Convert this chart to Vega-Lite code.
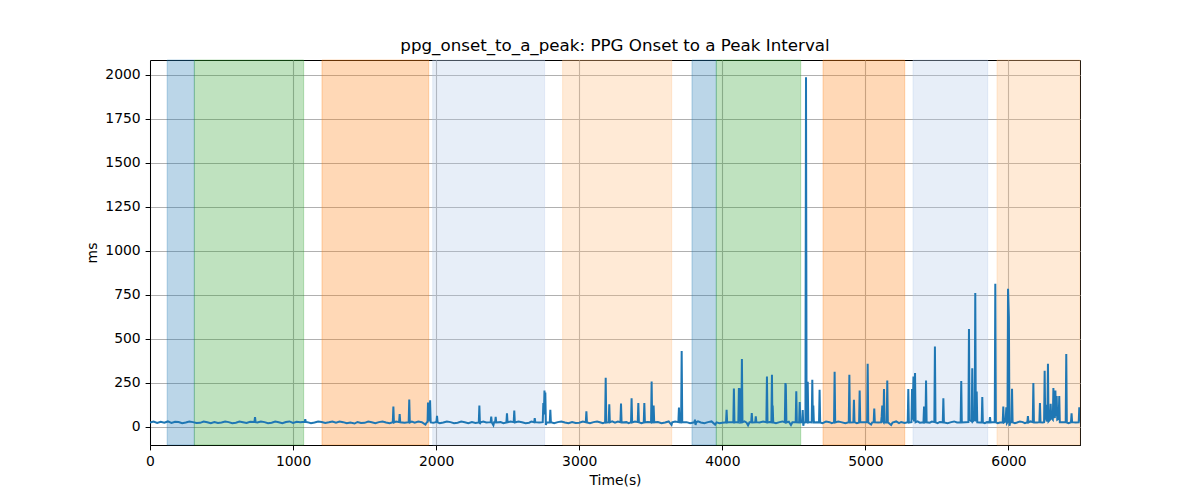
{
  "$schema": "https://vega.github.io/schema/vega-lite/v6.json",
  "autosize": "none",
  "width": 930,
  "height": 385,
  "padding": {"left": 150, "top": 60, "right": 120, "bottom": 55},
  "background": "white",
  "title": {"text": "ppg_onset_to_a_peak: PPG Onset to a Peak Interval", "fontSize": 16.7, "fontWeight": "normal", "font": "DejaVu Sans", "color": "black", "anchor": "middle", "offset": 5},
  "datasets": {
    "spans": [
      {"start": 120, "end": 310, "phase": "s1"},
      {"start": 310, "end": 1074, "phase": "s2"},
      {"start": 1202, "end": 1948, "phase": "s3"},
      {"start": 1976, "end": 2758, "phase": "s4"},
      {"start": 2884, "end": 3646, "phase": "s5"},
      {"start": 3788, "end": 3958, "phase": "s1"},
      {"start": 3958, "end": 4548, "phase": "s2"},
      {"start": 4704, "end": 5275, "phase": "s3"},
      {"start": 5333, "end": 5855, "phase": "s4"},
      {"start": 5920, "end": 6500, "phase": "s5"}
    ],
    "series": [
      {"t":0,"v":24},{"t":25,"v":29},{"t":50,"v":21},{"t":75,"v":28},{"t":100,"v":23},{"t":125,"v":30},{"t":150,"v":22},{"t":175,"v":28},{"t":200,"v":27},{"t":225,"v":20},{"t":250,"v":24},{"t":275,"v":30},{"t":300,"v":26},{"t":325,"v":21},{"t":350,"v":22},{"t":375,"v":29},{"t":400,"v":25},{"t":425,"v":20},{"t":450,"v":27},{"t":475,"v":21},{"t":500,"v":24},{"t":525,"v":30},{"t":550,"v":26},{"t":575,"v":20},{"t":600,"v":23},{"t":625,"v":29},{"t":650,"v":25},{"t":675,"v":21},{"t":700,"v":28},
      {"t":730,"v":27},{"t":734,"v":55},{"t":738,"v":26},
      {"t":750,"v":24},{"t":775,"v":30},{"t":800,"v":26},{"t":825,"v":20},{"t":850,"v":23},{"t":875,"v":29},{"t":900,"v":25},{"t":925,"v":20},{"t":950,"v":27},{"t":975,"v":30},{"t":1000,"v":22},{"t":1025,"v":28},{"t":1050,"v":25},
      {"t":1081,"v":28},{"t":1085,"v":42},{"t":1089,"v":27},
      {"t":1100,"v":26},{"t":1125,"v":20},{"t":1150,"v":24},{"t":1175,"v":30},{"t":1200,"v":27},{"t":1225,"v":21},{"t":1250,"v":25},{"t":1275,"v":30},{"t":1300,"v":23},{"t":1325,"v":29},{"t":1350,"v":26},{"t":1375,"v":20},{"t":1400,"v":24},{"t":1430,"v":18},{"t":1450,"v":27},{"t":1475,"v":21},{"t":1500,"v":22},{"t":1525,"v":29},{"t":1550,"v":25},{"t":1575,"v":20},{"t":1600,"v":26},{"t":1625,"v":30},{"t":1650,"v":24},{"t":1675,"v":20},
      {"t":1697,"v":25},{"t":1701,"v":114},{"t":1705,"v":24},
      {"t":1720,"v":29},
      {"t":1741,"v":26},{"t":1745,"v":72},{"t":1749,"v":25},
      {"t":1780,"v":23},
      {"t":1808,"v":26},{"t":1812,"v":155},{"t":1816,"v":24},
      {"t":1830,"v":29},{"t":1850,"v":23},{"t":1875,"v":29},{"t":1900,"v":26},{"t":1925,"v":12},{"t":1935,"v":25},
      {"t":1940,"v":27},{"t":1943,"v":138},{"t":1950,"v":30},{"t":1958,"v":150},{"t":1962,"v":24},
      {"t":1980,"v":22},
      {"t":2002,"v":27},{"t":2006,"v":62},{"t":2010,"v":25},
      {"t":2025,"v":20},{"t":2050,"v":24},{"t":2075,"v":30},{"t":2100,"v":26},{"t":2125,"v":20},{"t":2150,"v":23},{"t":2175,"v":29},{"t":2200,"v":25},{"t":2225,"v":20},{"t":2250,"v":27},{"t":2275,"v":21},
      {"t":2298,"v":24},{"t":2302,"v":121},{"t":2306,"v":15},{"t":2310,"v":25},
      {"t":2330,"v":29},{"t":2350,"v":24},
      {"t":2381,"v":26},{"t":2385,"v":58},{"t":2389,"v":24},
      {"t":2400,"v":8},{"t":2405,"v":25},
      {"t":2412,"v":25},{"t":2416,"v":56},{"t":2420,"v":24},
      {"t":2450,"v":26},{"t":2470,"v":20},
      {"t":2491,"v":24},{"t":2495,"v":76},{"t":2499,"v":25},
      {"t":2520,"v":30},
      {"t":2542,"v":26},{"t":2546,"v":92},{"t":2550,"v":24},
      {"t":2575,"v":29},{"t":2600,"v":25},{"t":2625,"v":20},{"t":2650,"v":23},{"t":2665,"v":29},
      {"t":2685,"v":25},{"t":2689,"v":49},{"t":2693,"v":26},
      {"t":2720,"v":24},
      {"t":2745,"v":26},{"t":2749,"v":134},{"t":2753,"v":70},{"t":2757,"v":206},{"t":2760,"v":120},{"t":2763,"v":195},{"t":2767,"v":10},{"t":2772,"v":25},
      {"t":2794,"v":24},{"t":2798,"v":96},{"t":2802,"v":25},
      {"t":2825,"v":20},{"t":2850,"v":26},{"t":2875,"v":30},{"t":2900,"v":24},{"t":2925,"v":20},{"t":2950,"v":27},{"t":2975,"v":21},{"t":3000,"v":23},{"t":3025,"v":29},
      {"t":3046,"v":25},{"t":3050,"v":88},{"t":3054,"v":24},
      {"t":3075,"v":20},{"t":3100,"v":26},{"t":3125,"v":30},{"t":3150,"v":24},{"t":3165,"v":20},
      {"t":3181,"v":25},{"t":3185,"v":279},{"t":3189,"v":24},
      {"t":3206,"v":26},{"t":3210,"v":127},{"t":3214,"v":25},
      {"t":3230,"v":30},{"t":3250,"v":23},{"t":3270,"v":29},
      {"t":3288,"v":25},{"t":3292,"v":132},{"t":3296,"v":24},
      {"t":3330,"v":26},{"t":3345,"v":20},
      {"t":3362,"v":25},{"t":3366,"v":162},{"t":3370,"v":24},
      {"t":3390,"v":29},
      {"t":3409,"v":26},{"t":3413,"v":134},{"t":3417,"v":25},
      {"t":3435,"v":20},
      {"t":3451,"v":24},{"t":3455,"v":134},{"t":3459,"v":25},
      {"t":3480,"v":27},
      {"t":3502,"v":25},{"t":3506,"v":257},{"t":3510,"v":24},{"t":3516,"v":26},{"t":3520,"v":120},{"t":3524,"v":25},
      {"t":3550,"v":27},{"t":3575,"v":20},{"t":3600,"v":24},{"t":3625,"v":30},{"t":3645,"v":10},{"t":3650,"v":25},{"t":3670,"v":29},
      {"t":3693,"v":26},{"t":3697,"v":109},{"t":3701,"v":25},{"t":3712,"v":24},{"t":3716,"v":431},{"t":3720,"v":25},
      {"t":3750,"v":26},{"t":3775,"v":20},
      {"t":3805,"v":25},{"t":3809,"v":40},{"t":3813,"v":10},{"t":3818,"v":25},
      {"t":3830,"v":30},{"t":3850,"v":24},{"t":3875,"v":20},{"t":3900,"v":26},{"t":3925,"v":30},{"t":3950,"v":12},{"t":3960,"v":25},{"t":3980,"v":20},{"t":4000,"v":23},
      {"t":4026,"v":25},{"t":4030,"v":96},{"t":4034,"v":24},
      {"t":4050,"v":26},
      {"t":4077,"v":25},{"t":4081,"v":217},{"t":4085,"v":24},
      {"t":4100,"v":26},
      {"t":4112,"v":25},{"t":4116,"v":220},{"t":4120,"v":30},{"t":4123,"v":219},{"t":4127,"v":24},
      {"t":4133,"v":26},{"t":4137,"v":385},{"t":4141,"v":25},
      {"t":4155,"v":30},{"t":4170,"v":23},{"t":4180,"v":8},{"t":4190,"v":25},
      {"t":4202,"v":25},{"t":4206,"v":77},{"t":4210,"v":24},
      {"t":4230,"v":25},{"t":4234,"v":59},{"t":4238,"v":26},
      {"t":4260,"v":24},{"t":4285,"v":29},
      {"t":4308,"v":25},{"t":4312,"v":286},{"t":4316,"v":24},
      {"t":4330,"v":27},
      {"t":4343,"v":25},{"t":4347,"v":296},{"t":4350,"v":40},{"t":4352,"v":120},{"t":4356,"v":24},
      {"t":4375,"v":20},{"t":4400,"v":26},{"t":4420,"v":30},
      {"t":4437,"v":25},{"t":4441,"v":248},{"t":4444,"v":235},{"t":4448,"v":24},
      {"t":4465,"v":29},{"t":4480,"v":10},{"t":4490,"v":25},
      {"t":4513,"v":26},{"t":4517,"v":201},{"t":4521,"v":25},
      {"t":4537,"v":24},{"t":4541,"v":140},{"t":4545,"v":25},
      {"t":4558,"v":26},{"t":4562,"v":95},{"t":4566,"v":5},{"t":4570,"v":24},
      {"t":4581,"v":25},{"t":4585,"v":1987},{"t":4589,"v":26},
      {"t":4593,"v":25},{"t":4597,"v":255},{"t":4601,"v":24},
      {"t":4615,"v":26},
      {"t":4625,"v":25},{"t":4629,"v":267},{"t":4633,"v":30},{"t":4636,"v":120},{"t":4640,"v":24},
      {"t":4660,"v":26},
      {"t":4676,"v":25},{"t":4680,"v":210},{"t":4684,"v":24},
      {"t":4700,"v":20},{"t":4725,"v":29},{"t":4750,"v":26},{"t":4765,"v":20},
      {"t":4781,"v":25},{"t":4785,"v":312},{"t":4789,"v":24},
      {"t":4810,"v":29},{"t":4830,"v":26},{"t":4860,"v":20},
      {"t":4884,"v":25},{"t":4888,"v":295},{"t":4892,"v":24},
      {"t":4916,"v":25},{"t":4920,"v":153},{"t":4924,"v":26},
      {"t":4940,"v":20},
      {"t":4956,"v":24},{"t":4960,"v":206},{"t":4964,"v":25},
      {"t":4990,"v":26},
      {"t":5012,"v":25},{"t":5016,"v":358},{"t":5020,"v":24},
      {"t":5040,"v":12},{"t":5048,"v":25},
      {"t":5058,"v":26},{"t":5062,"v":104},{"t":5066,"v":25},
      {"t":5090,"v":24},
      {"t":5110,"v":25},{"t":5114,"v":60},{"t":5118,"v":120},{"t":5122,"v":30},{"t":5126,"v":26},{"t":5130,"v":214},{"t":5134,"v":25},
      {"t":5149,"v":24},{"t":5153,"v":263},{"t":5157,"v":25},
      {"t":5180,"v":10},{"t":5190,"v":24},{"t":5215,"v":30},{"t":5235,"v":20},{"t":5250,"v":27},{"t":5275,"v":21},
      {"t":5296,"v":25},{"t":5300,"v":214},{"t":5304,"v":24},
      {"t":5322,"v":26},{"t":5326,"v":214},{"t":5330,"v":40},{"t":5336,"v":286},{"t":5340,"v":30},{"t":5347,"v":305},{"t":5351,"v":25},
      {"t":5365,"v":30},{"t":5380,"v":23},
      {"t":5406,"v":25},{"t":5410,"v":115},{"t":5414,"v":24},
      {"t":5420,"v":26},{"t":5424,"v":262},{"t":5428,"v":25},
      {"t":5450,"v":23},{"t":5465,"v":29},
      {"t":5482,"v":26},{"t":5486,"v":456},{"t":5490,"v":25},
      {"t":5505,"v":20},{"t":5520,"v":27},
      {"t":5541,"v":25},{"t":5545,"v":161},{"t":5549,"v":24},
      {"t":5575,"v":20},{"t":5600,"v":26},{"t":5620,"v":30},{"t":5640,"v":24},
      {"t":5666,"v":25},{"t":5670,"v":260},{"t":5674,"v":24},
      {"t":5700,"v":25},
      {"t":5720,"v":26},{"t":5724,"v":555},{"t":5728,"v":40},{"t":5743,"v":30},{"t":5747,"v":333},{"t":5751,"v":30},{"t":5764,"v":40},{"t":5768,"v":760},{"t":5772,"v":30},{"t":5778,"v":200},{"t":5782,"v":25},
      {"t":5800,"v":24},
      {"t":5813,"v":25},{"t":5817,"v":169},{"t":5821,"v":24},
      {"t":5835,"v":20},{"t":5850,"v":26},
      {"t":5867,"v":25},{"t":5871,"v":55},{"t":5875,"v":24},
      {"t":5890,"v":25},
      {"t":5904,"v":26},{"t":5908,"v":813},{"t":5912,"v":25},
      {"t":5925,"v":20},{"t":5940,"v":24},
      {"t":5960,"v":25},{"t":5964,"v":115},{"t":5968,"v":24},
      {"t":5980,"v":30},{"t":5985,"v":110},{"t":5989,"v":20},
      {"t":5993,"v":25},{"t":5997,"v":784},{"t":6003,"v":620},{"t":6007,"v":5},{"t":6012,"v":25},
      {"t":6021,"v":26},{"t":6025,"v":216},{"t":6029,"v":25},
      {"t":6045,"v":20},{"t":6060,"v":24},{"t":6080,"v":30},{"t":6100,"v":26},{"t":6115,"v":20},
      {"t":6132,"v":25},{"t":6136,"v":60},{"t":6140,"v":24},
      {"t":6155,"v":30},
      {"t":6170,"v":26},{"t":6174,"v":248},{"t":6178,"v":25},
      {"t":6200,"v":24},
      {"t":6216,"v":26},{"t":6220,"v":135},{"t":6224,"v":25},
      {"t":6240,"v":24},
      {"t":6249,"v":26},{"t":6253,"v":318},{"t":6257,"v":40},{"t":6262,"v":125},{"t":6266,"v":30},{"t":6272,"v":40},{"t":6276,"v":358},{"t":6280,"v":30},
      {"t":6291,"v":40},{"t":6295,"v":130},{"t":6299,"v":50},
      {"t":6310,"v":40},{"t":6314,"v":220},{"t":6318,"v":60},{"t":6324,"v":50},{"t":6328,"v":206},{"t":6332,"v":60},{"t":6337,"v":175},{"t":6341,"v":40},
      {"t":6351,"v":45},{"t":6355,"v":175},{"t":6359,"v":25},
      {"t":6380,"v":26},
      {"t":6400,"v":25},{"t":6404,"v":413},{"t":6408,"v":24},
      {"t":6420,"v":20},
      {"t":6437,"v":25},{"t":6441,"v":76},{"t":6445,"v":26},
      {"t":6470,"v":24},
      {"t":6491,"v":25},{"t":6495,"v":110},{"t":6499,"v":30}
    ]
  },
  "layer": [
    {
      "data": {"name": "spans"},
      "mark": {"type": "rect", "fillOpacity": 0.3, "strokeOpacity": 0.3, "strokeWidth": 1},
      "encoding": {
        "x": {"field": "start", "type": "quantitative", "scale": {"domain": [0, 6500], "nice": false, "zero": false}, "axis": {"title": "Time(s)", "values": [0, 1000, 2000, 3000, 4000, 5000, 6000], "format": "d"}},
        "x2": {"field": "end"},
        "fill": {"field": "phase", "type": "nominal", "scale": {"domain": ["s1", "s2", "s3", "s4", "s5"], "range": ["#1f77b4", "#2ca02c", "#ff7f0e", "#aec7e8", "#ffbb78"]}, "legend": null},
        "stroke": {"field": "phase", "type": "nominal", "scale": {"domain": ["s1", "s2", "s3", "s4", "s5"], "range": ["#1f77b4", "#2ca02c", "#ff7f0e", "#aec7e8", "#ffbb78"]}, "legend": null}
      }
    },
    {
      "data": {"name": "series"},
      "mark": {"type": "line", "color": "#1f77b4", "strokeWidth": 2, "clip": true},
      "encoding": {
        "x": {"field": "t", "type": "quantitative"},
        "y": {"field": "v", "type": "quantitative", "scale": {"domain": [-104, 2085], "nice": false, "zero": false}, "axis": {"title": "ms", "values": [0, 250, 500, 750, 1000, 1250, 1500, 1750, 2000], "format": "d"}}
      }
    }
  ],
  "config": {
    "font": "DejaVu Sans",
    "view": {"stroke": "black", "strokeWidth": 1},
    "axis": {
      "domainColor": "black",
      "domainWidth": 1,
      "tickColor": "black",
      "tickSize": 4.9,
      "tickWidth": 1,
      "labelColor": "black",
      "labelFont": "DejaVu Sans",
      "labelFontSize": 13.9,
      "labelPadding": 4.9,
      "titleFont": "DejaVu Sans",
      "titleFontSize": 13.9,
      "titleFontWeight": "normal",
      "titleColor": "black",
      "titlePadding": 5,
      "grid": true,
      "gridColor": "#b0b0b0",
      "gridWidth": 1.1,
      "labelFlush": false
    }
  }
}
